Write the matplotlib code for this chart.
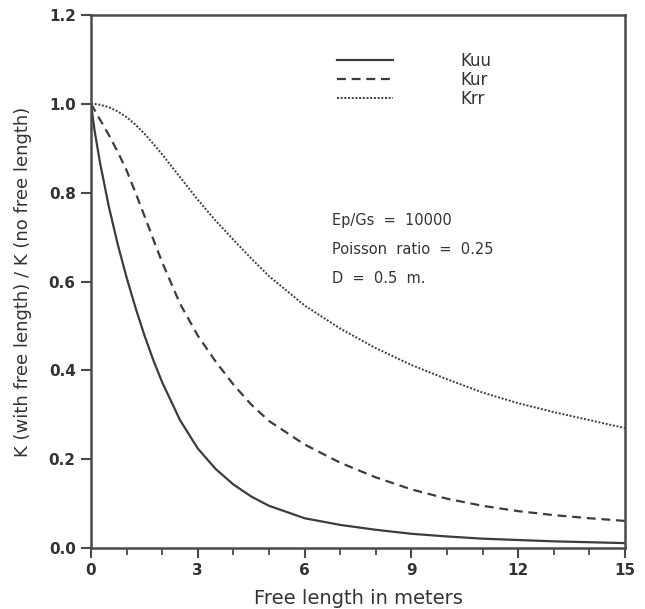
import matplotlib
matplotlib.use("Agg")
import matplotlib.pyplot as plt

# ---- data ----
free_length = [0, 0.1, 0.25, 0.5, 0.75, 1, 1.25, 1.5, 1.75, 2, 2.5, 3, 3.5, 4, 4.5, 5,
               6, 7, 8, 9, 10, 11, 12, 13, 14, 15]
kuu = [1.0, 0.94, 0.869, 0.769, 0.684, 0.609, 0.541, 0.479, 0.423, 0.373, 0.288,
       0.224, 0.178, 0.143, 0.116, 0.095, 0.067, 0.052, 0.041, 0.032, 0.026, 0.021,
       0.018, 0.015, 0.013, 0.011]
kur = [1.0, 0.986, 0.965, 0.93, 0.892, 0.85, 0.80, 0.748, 0.695, 0.643, 0.55, 0.478,
       0.42, 0.368, 0.323, 0.286, 0.233, 0.192, 0.159, 0.132, 0.111, 0.095, 0.083,
       0.074, 0.067, 0.061]
krr = [1.0, 0.9997, 0.998, 0.9925, 0.983, 0.970, 0.953, 0.933, 0.910, 0.886, 0.835,
       0.784, 0.737, 0.694, 0.652, 0.612, 0.546, 0.494, 0.45, 0.412, 0.38, 0.35,
       0.326, 0.306, 0.288, 0.27]
series_labels = ["Kuu", "Kur", "Krr"]
x_ticks = [0, 3, 6, 9, 12, 15]
y_ticks = [0.0, 0.2, 0.4, 0.6, 0.8, 1.0, 1.2]
param_text = ["Ep/Gs  =  10000", "Poisson  ratio  =  0.25", "D  =  0.5  m."]

line_color = "#3c3c3c"
frame_color = "#4a4a4a"

fig = plt.figure(figsize=(6.45, 6.09), dpi=100)
ax = fig.add_axes([91 / 645, 61 / 609, 534 / 645, 533 / 609])

l1, = ax.plot(free_length, kuu, color=line_color, lw=1.6, solid_joinstyle="round")
l2, = ax.plot(free_length, kur, color=line_color, lw=1.6, linestyle=(0, (4, 2.6)))
l3, = ax.plot(free_length, krr, color=line_color, lw=1.4, linestyle=(0, (1.0, 0.9)))

ax.set_xlim(0, 15)
ax.set_ylim(0, 1.2)
ax.set_xticks(x_ticks)
ax.set_xticks(range(0, 16), minor=True)
ax.set_yticks(y_ticks)
ax.set_xticklabels([str(v) for v in x_ticks], fontsize=11, fontweight="bold",
                   color="#333333")
ax.set_yticklabels([f"{v:.1f}" for v in y_ticks], fontsize=11, fontweight="bold",
                   color="#333333")
ax.tick_params(axis="both", which="major", direction="out", length=7, width=1.5,
               color=frame_color, pad=4)
ax.tick_params(axis="x", which="minor", direction="out", length=5, width=1.3,
               color=frame_color)
for sp in ax.spines.values():
    sp.set_color(frame_color)
    sp.set_linewidth(1.8)

ax.set_xlabel("Free length in meters", fontsize=14, color="#333333", labelpad=8)
ax.set_ylabel("K (with free length) / K (no free length)", fontsize=13,
              color="#333333", labelpad=12)

leg = ax.legend([l1, l2, l3], series_labels, loc="upper left",
                bbox_to_anchor=(0.46, 0.93), frameon=False, fontsize=12,
                handlelength=3.4, handletextpad=4.0, labelspacing=0.05,
                borderpad=0, borderaxespad=0)
for t in leg.get_texts():
    t.set_color("#333333")

for i, s in enumerate(param_text):
    ax.text(0.452, [0.615, 0.560, 0.505][i], s, transform=ax.transAxes,
            fontsize=10.5, color="#333333", va="center", ha="left")

fig.savefig("out.png", dpi=100)
